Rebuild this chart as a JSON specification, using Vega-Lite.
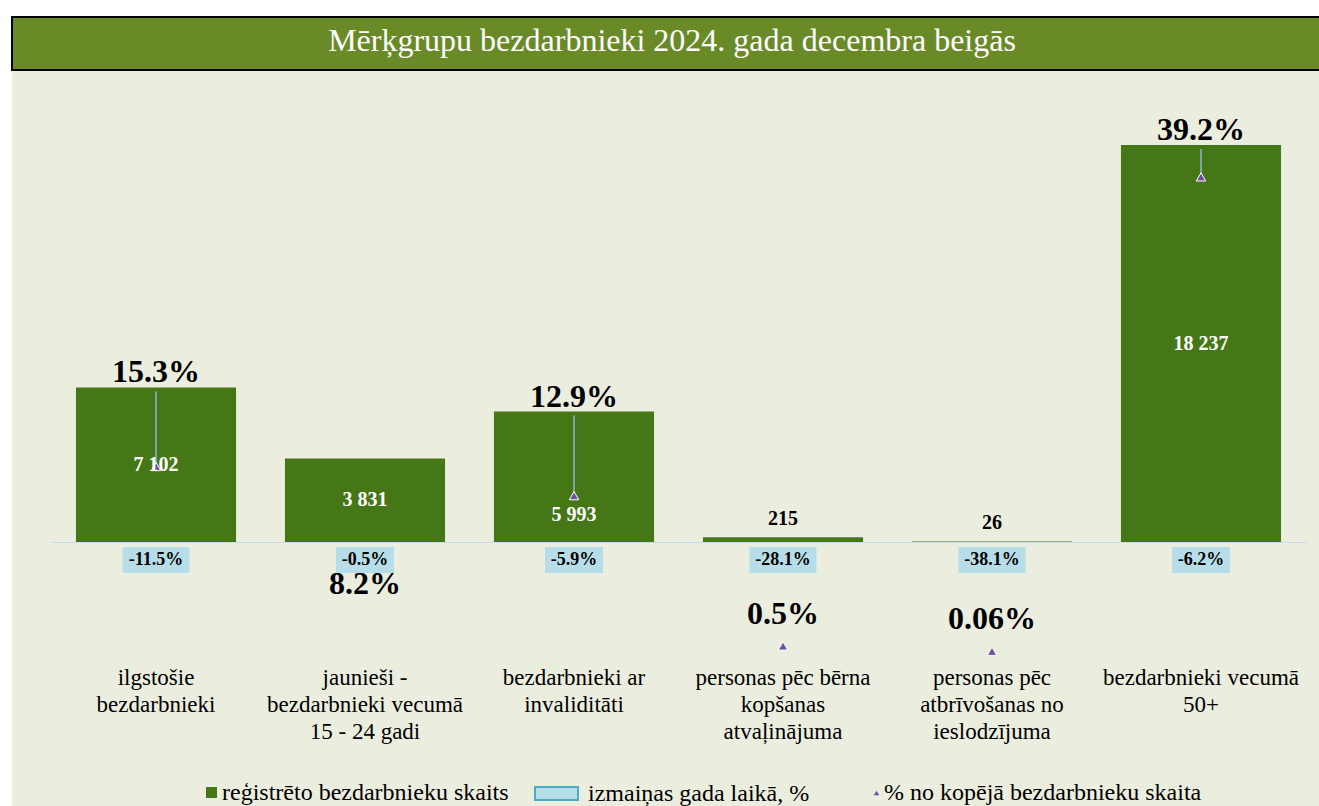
{
  "$schema": "https://vega.github.io/schema/vega-lite/v6.json",
  "background": "white",
  "padding": {"left": 11, "top": 16, "right": 0, "bottom": 0},
  "config": {"font": "Liberation Serif"},
  "spacing": 0,
  "vconcat": [
    {
      "width": 1308,
      "height": 53,
      "view": {"fill": "#6A8A28", "stroke": "#000000", "strokeWidth": 2},
      "data": {"values": [{"title": "Mērķgrupu bezdarbnieki 2024. gada decembra beigās"}]},
      "mark": {"type": "text", "color": "white", "fontSize": 32, "font": "Liberation Serif", "dx": 6, "dy": -3, "baseline": "middle", "align": "center"},
      "encoding": {"text": {"field": "title"}}
    },
    {
      "width": 1308,
      "height": 737,
      "view": {"fill": "#EBEEDF", "stroke": null},
      "data": {
        "values": [
          {"cat": "ilgstošie|bezdarbnieki", "count": 7102, "countLabel": "7 102", "change": -11.5, "changeLabel": "-11.5%", "share": 15.3, "shareLabel": "15.3%"},
          {"cat": "jaunieši -|bezdarbnieki vecumā|15 - 24 gadi", "count": 3831, "countLabel": "3 831", "change": -0.5, "changeLabel": "-0.5%", "share": 8.2, "shareLabel": "8.2%"},
          {"cat": "bezdarbnieki ar|invaliditāti", "count": 5993, "countLabel": "5 993", "change": -5.9, "changeLabel": "-5.9%", "share": 12.9, "shareLabel": "12.9%"},
          {"cat": "personas pēc bērna|kopšanas|atvaļinājuma", "count": 215, "countLabel": "215", "change": -28.1, "changeLabel": "-28.1%", "share": 0.5, "shareLabel": "0.5%"},
          {"cat": "personas pēc|atbrīvošanas no|ieslodzījuma", "count": 26, "countLabel": "26", "change": -38.1, "changeLabel": "-38.1%", "share": 0.06, "shareLabel": "0.06%"},
          {"cat": "bezdarbnieki vecumā|50+", "count": 18237, "countLabel": "18 237", "change": -6.2, "changeLabel": "-6.2%", "share": 39.2, "shareLabel": "39.2%"}
        ]
      },
      "encoding": {
        "x": {
          "field": "cat",
          "type": "nominal",
          "sort": null,
          "scale": {"range": [39.5, 1293.5], "paddingInner": 0.234, "paddingOuter": 0.117},
          "axis": {
            "title": null,
            "orient": "bottom",
            "offset": -266,
            "domain": true,
            "domainColor": "#C6D9F1",
            "domainWidth": 1,
            "ticks": false,
            "grid": false,
            "labelPadding": 124,
            "labelFontSize": 23,
            "labelFont": "Liberation Serif",
            "labelColor": "#000000",
            "labelLineHeight": 27,
            "labelBaseline": "top",
            "labelAngle": 0,
            "labelLimit": 500,
            "labelOverlap": false,
            "labelExpr": "split(datum.label, '|')"
          }
        }
      },
      "layer": [
        {
          "name": "pbar",
          "mark": {"type": "bar", "color": "#467717"},
          "encoding": {
            "y": {"field": "count", "type": "quantitative", "scale": {"domain": [-12219.3, 21636.4], "nice": false, "zero": false}, "axis": null},
            "y2": {"datum": 0},
            "fill": {
              "datum": "reģistrēto bezdarbnieku skaits",
              "type": "nominal",
              "scale": {"range": ["#467717"]},
              "legend": {"title": null, "orient": "none", "legendX": 187.5, "legendY": 763.5, "padding": 0, "symbolType": "square", "symbolSize": 121, "labelFontSize": 24, "labelFont": "Liberation Serif", "labelColor": "#000000", "labelOffset": -1.5, "labelLimit": 600}
            }
          }
        },
        {
          "name": "srule",
          "transform": [{"filter": "datum.share >= 10"}],
          "mark": {"type": "rule", "color": "#95B3D7", "strokeWidth": 1.5, "y2Offset": {"expr": "scale('pbar_y', datum.count) - scale('srule_y', datum.share) + 4"}},
          "encoding": {
            "y": {"field": "share", "type": "quantitative", "scale": {"domain": [-12.871, 47.937], "nice": false, "zero": false}, "axis": null},
            "y2": {"field": "share"}
          }
        },
        {
          "name": "stri",
          "mark": {"type": "point", "filled": true, "fill": "#7050A0", "stroke": "white", "strokeWidth": 1, "size": 90, "opacity": 1},
          "encoding": {
            "y": {"field": "share", "type": "quantitative", "scale": {"domain": [-12.871, 47.937], "nice": false, "zero": false}, "axis": null},
            "shape": {
              "datum": "% no kopējā bezdarbnieku skaita",
              "type": "nominal",
              "scale": {"range": ["triangle-up"]},
              "legend": {"title": null, "orient": "none", "legendX": 852.5, "legendY": 764, "padding": 0, "symbolSize": 30, "symbolFillColor": "#7050A0", "symbolStrokeWidth": 0, "labelFontSize": 24, "labelFont": "Liberation Serif", "labelColor": "#000000", "labelOffset": -4.5, "labelLimit": 600}
            }
          }
        },
        {
          "name": "boxw",
          "transform": [{"filter": "length(datum.changeLabel) >= 6"}],
          "mark": {"type": "point", "shape": "M-1,-0.388L1,-0.388L1,0.388L-1,0.388Z", "filled": true, "fill": "#B7DEE8", "size": 4489, "opacity": 1, "strokeWidth": 0, "yOffset": 18},
          "encoding": {
            "y": {"datum": 0, "type": "quantitative", "scale": {"domain": [-12219.3, 21636.4], "nice": false, "zero": false}, "axis": null}
          }
        },
        {
          "name": "boxn",
          "transform": [{"filter": "length(datum.changeLabel) < 6"}],
          "mark": {"type": "point", "shape": "M-1,-0.448L1,-0.448L1,0.448L-1,0.448Z", "filled": true, "fill": "#B7DEE8", "size": 3364, "opacity": 1, "strokeWidth": 0, "yOffset": 18},
          "encoding": {
            "y": {"datum": 0, "type": "quantitative", "scale": {"domain": [-12219.3, 21636.4], "nice": false, "zero": false}, "axis": null},
            "stroke": {
              "datum": "izmaiņas gada laikā, %",
              "type": "nominal",
              "scale": {"range": ["#4BACC6"]},
              "legend": {"title": null, "orient": "none", "legendX": 522, "legendY": 754, "padding": 0, "symbolType": "M-1,-0.3L1,-0.3L1,0.3L-1,0.3Z", "symbolSize": 1849, "symbolFillColor": "#B7DEE8", "symbolStrokeWidth": 2, "labelFontSize": 24, "labelFont": "Liberation Serif", "labelColor": "#000000", "labelOffset": 9, "labelLimit": 600}
            }
          }
        },
        {
          "name": "tin",
          "transform": [{"filter": "datum.count >= 1000 && datum.cat != 'bezdarbnieki ar|invaliditāti'"}],
          "mark": {"type": "text", "color": "white", "fontSize": 20, "fontWeight": "bold", "baseline": "middle", "align": "center"},
          "encoding": {
            "y": {"field": "count", "type": "quantitative", "scale": {"domain": [-24438.6, 43272.8], "nice": false, "zero": false}, "axis": null},
            "text": {"field": "countLabel"}
          }
        },
        {
          "name": "tin3",
          "transform": [{"filter": "datum.cat == 'bezdarbnieki ar|invaliditāti'"}],
          "mark": {"type": "text", "color": "white", "fontSize": 20, "fontWeight": "bold", "baseline": "middle", "align": "center", "dy": -27},
          "encoding": {
            "y": {"datum": 0, "type": "quantitative", "scale": {"domain": [-12219.3, 21636.4], "nice": false, "zero": false}, "axis": null},
            "text": {"field": "countLabel"}
          }
        },
        {
          "name": "tsmall",
          "transform": [{"filter": "datum.count < 1000"}],
          "mark": {"type": "text", "color": "#000000", "fontSize": 20, "fontWeight": "bold", "baseline": "middle", "align": "center", "dy": -18},
          "encoding": {
            "y": {"field": "count", "type": "quantitative", "scale": {"domain": [-12219.3, 21636.4], "nice": false, "zero": false}, "axis": null},
            "text": {"field": "countLabel"}
          }
        },
        {
          "name": "tchg",
          "mark": {"type": "text", "color": "#000000", "fontSize": 18, "fontWeight": "bold", "baseline": "middle", "align": "center", "dy": 18},
          "encoding": {
            "y": {"datum": 0, "type": "quantitative", "scale": {"domain": [-12219.3, 21636.4], "nice": false, "zero": false}, "axis": null},
            "text": {"field": "changeLabel"}
          }
        },
        {
          "name": "tshbig",
          "transform": [{"filter": "datum.share >= 10"}],
          "mark": {"type": "text", "color": "#000000", "fontSize": 32, "fontWeight": "bold", "baseline": "middle", "align": "center", "dy": -15},
          "encoding": {
            "y": {"field": "count", "type": "quantitative", "scale": {"domain": [-12219.3, 21636.4], "nice": false, "zero": false}, "axis": null},
            "text": {"field": "shareLabel"}
          }
        },
        {
          "name": "tshmid",
          "transform": [{"filter": "datum.share >= 1 && datum.share < 10"}],
          "mark": {"type": "text", "color": "#000000", "fontSize": 32, "fontWeight": "bold", "baseline": "middle", "align": "center", "dy": 31},
          "encoding": {
            "y": {"field": "share", "type": "quantitative", "scale": {"domain": [-12.871, 47.937], "nice": false, "zero": false}, "axis": null},
            "text": {"field": "shareLabel"}
          }
        },
        {
          "name": "tshlow",
          "transform": [{"filter": "datum.share < 1"}],
          "mark": {"type": "text", "color": "#000000", "fontSize": 32, "fontWeight": "bold", "baseline": "middle", "align": "center", "dy": -32},
          "encoding": {
            "y": {"field": "share", "type": "quantitative", "scale": {"domain": [-12.871, 47.937], "nice": false, "zero": false}, "axis": null},
            "text": {"field": "shareLabel"}
          }
        }
      ],
      "resolve": {"scale": {"y": "independent"}}
    }
  ]
}
